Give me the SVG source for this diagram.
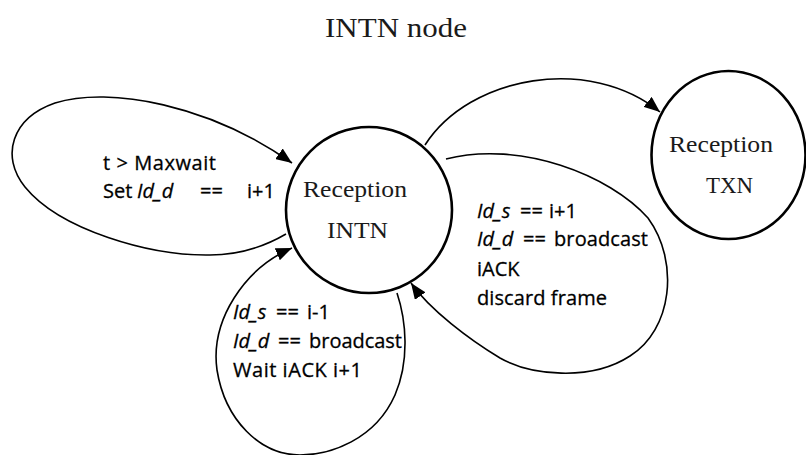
<svg xmlns="http://www.w3.org/2000/svg" width="806" height="455" viewBox="0 0 806 455">
  <defs>
    <marker id="arrow" viewBox="0 0 16 13" refX="16" refY="6.5" markerWidth="16" markerHeight="13" markerUnits="userSpaceOnUse" orient="auto">
      <path d="M0,0 L16,6.5 L0,13 z" fill="#000"/>
    </marker>
    <style>
      .state { fill: #fff; stroke: #000; stroke-width: 2.6; }
      .state-label { font-family: "Liberation Serif", "Times New Roman", serif; font-size: 23px; fill: #1a1a1a; }
      .title { font-family: "Liberation Serif", "Times New Roman", serif; font-size: 27px; fill: #1a1a1a; }
      .edge { fill: none; stroke: #000; stroke-width: 1.6; }
      .guard { font-family: "Open Sans", "Liberation Sans", Arial, sans-serif; font-size: 20px; fill: #000; stroke: #000; stroke-width: 0.3; }
      .var { font-style: italic; }
    </style>
  </defs>

  <rect width="806" height="455" fill="#fff"/>

  <text class="title" x="325" y="37" textLength="142" lengthAdjust="spacingAndGlyphs">INTN node</text>

  <!-- transitions -->
  <g id="connectors">
    <!-- timeout self-loop on the left -->
    <path class="edge" d="M286,234 C262,248 238,255 210,255 C150,256 60,230 25,187 C0,156 12,118 55,103 C110,86 210,105 292,163" marker-end="url(#arrow)"/>
    <!-- self-loop below: frame from previous node -->
    <path class="edge" d="M397,293 C406,320 410,360 395,395 C375,440 330,455 300,455 C260,455 225,420 217,370 C210,320 245,268 292,248" marker-end="url(#arrow)"/>
    <!-- self-loop on the right: frame from next node -->
    <path class="edge" d="M446,159 C520,140 610,175 648,218 C680,262 672,330 630,356 C590,382 530,375 500,358 C470,340 430,310 411,283" marker-end="url(#arrow)"/>
    <!-- hand-over to the transmission state -->
    <path class="edge" d="M425,145 C470,75 590,55 660,112" marker-end="url(#arrow)"/>
  </g>

  <!-- transition guards -->
  <g id="guard-timeout" class="guard">
    <text x="103" y="170" textLength="113">t &gt; Maxwait</text>
    <text y="198"><tspan x="103">Set</tspan><tspan x="137" class="var">Id_d</tspan><tspan x="200">==</tspan><tspan x="247">i+1</tspan></text>
  </g>

  <g id="guard-prev" class="guard">
    <text y="319"><tspan x="233" class="var">Id_s</tspan><tspan x="276">==</tspan><tspan x="307">i-1</tspan></text>
    <text y="348"><tspan x="233" class="var">Id_d</tspan><tspan x="278">==</tspan><tspan x="309" textLength="93">broadcast</tspan></text>
    <text x="233" y="377" textLength="129">Wait iACK i+1</text>
  </g>

  <g id="guard-next" class="guard">
    <text y="218"><tspan x="477" class="var">Id_s</tspan><tspan x="520">==</tspan><tspan x="549">i+1</tspan></text>
    <text y="246"><tspan x="477" class="var">Id_d</tspan><tspan x="523">==</tspan><tspan x="554" textLength="94">broadcast</tspan></text>
    <text x="477" y="276">iACK</text>
    <text x="477" y="305" textLength="130">discard frame</text>
  </g>

  <!-- states -->
  <g id="state-intn">
    <circle class="state" cx="369" cy="210" r="83"/>
    <text class="state-label" x="303" y="197" textLength="104" lengthAdjust="spacingAndGlyphs">Reception</text>
    <text class="state-label" x="327" y="238" textLength="61" lengthAdjust="spacingAndGlyphs">INTN</text>
  </g>

  <g id="state-txn">
    <ellipse class="state" cx="728.5" cy="155" rx="77" ry="84"/>
    <text class="state-label" x="669" y="152" textLength="104" lengthAdjust="spacingAndGlyphs">Reception</text>
    <text class="state-label" x="706" y="193" textLength="47" lengthAdjust="spacingAndGlyphs">TXN</text>
  </g>
</svg>
